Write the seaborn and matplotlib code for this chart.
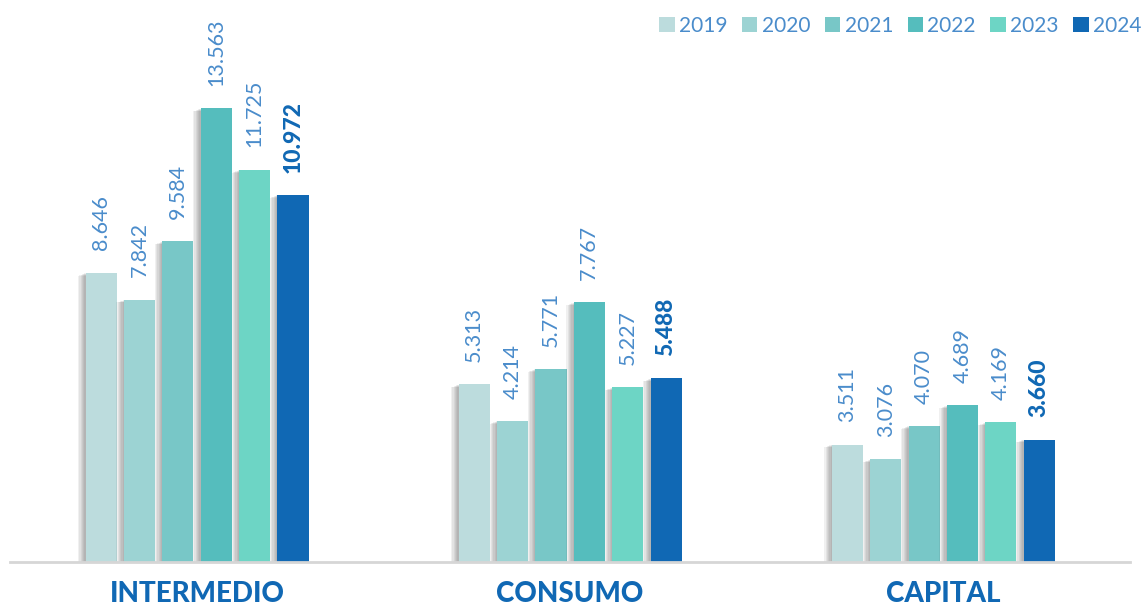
import matplotlib
matplotlib.use("Agg")
import matplotlib.pyplot as plt
import matplotlib.patheffects as pe
from matplotlib.patches import Patch
import pandas as pd
import seaborn as sns

categories = ["INTERMEDIO", "CONSUMO", "CAPITAL"]
years = ["2019", "2020", "2021", "2022", "2023", "2024"]
intermedio = [8646, 7842, 9584, 13563, 11725, 10972]
consumo = [5313, 4214, 5771, 7767, 5227, 5488]
capital = [3511, 3076, 4070, 4689, 4169, 3660]
colors = ["#BCDCDD", "#9CD3D3", "#78C7C7", "#55BDBD", "#6DD5C5", "#1068B4"]

label_blue = "#4A8CCB"
dark_blue = "#1068B4"

rows = []
for cat, vals in zip(categories, [intermedio, consumo, capital]):
    for y, v in zip(years, vals):
        rows.append({"cat": cat, "year": y, "value": v / 1000})
df = pd.DataFrame(rows)

sns.set_style("white")
plt.rcParams["font.family"] = ["Lato", "DejaVu Sans"]

fig = plt.figure(figsize=(11.41, 6.07), dpi=100)
ax = fig.add_axes([0.0092, 0.0741, 0.981, 0.8822])

sns.barplot(data=df, x="cat", y="value", hue="year", palette=colors,
            width=0.617, gap=0.19, ax=ax, legend=False, saturation=1)

# soft shadow on the left of each bar
shadow = [pe.SimplePatchShadow(offset=(-k * 0.9, -k * 0.35), shadow_rgbFace="#444444", alpha=0.08)
          for k in range(1, 7)] + [pe.Normal()]
for i, cont in enumerate(ax.containers):
    for bar in cont:
        bar.set_path_effects(shadow)
        bar.set_linewidth(0)
    last = i == len(ax.containers) - 1
    labels = [f"{v:,}".replace(",", ".") for v in
              [vals[i] for vals in (intermedio, consumo, capital)]]
    ax.bar_label(cont, labels=labels, rotation=90, padding=16,
                 fontsize=16.5 if last else 15.5,
                 fontweight="black" if last else "normal",
                 color=dark_blue if last else label_blue)

ax.set_xlim(-0.5, 2.5)
ax.set_ylim(0, 16)
ax.set_xlabel("")
ax.set_ylabel("")
ax.set_yticks([])
for s in ["left", "right", "top"]:
    ax.spines[s].set_visible(False)
ax.spines["bottom"].set_color("#D6D6D6")
ax.spines["bottom"].set_linewidth(2)
ax.tick_params(axis="x", length=0, pad=14)
for t in ax.get_xticklabels():
    t.set_fontsize(20)
    t.set_fontweight("black")
    t.set_color(dark_blue)

handles = [Patch(facecolor=c, edgecolor="none") for c in colors]
leg = fig.legend(handles, years, loc="upper right", bbox_to_anchor=(1.017, 1.005),
                 ncol=6, frameon=False, fontsize=15, handlelength=0.75,
                 handleheight=0.75, handletextpad=0.2, columnspacing=0.7)
for t in leg.get_texts():
    t.set_color(label_blue)

fig.savefig("out.png", dpi=100)
